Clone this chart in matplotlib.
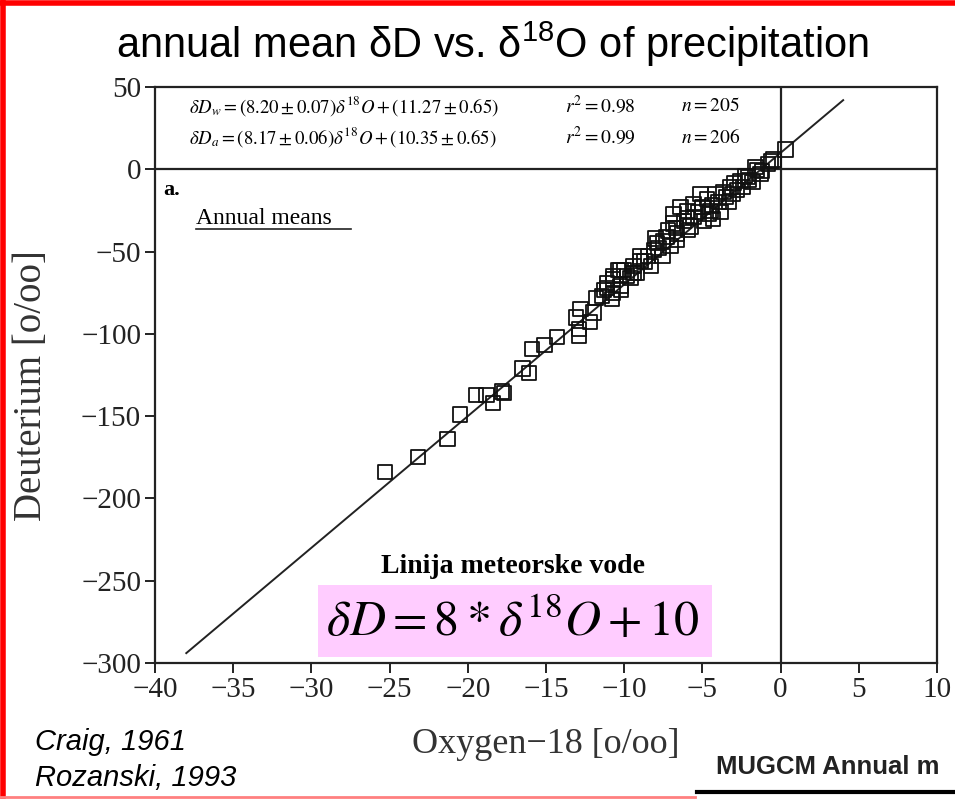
import matplotlib
matplotlib.use("Agg")
import matplotlib.pyplot as plt
from matplotlib.patches import Rectangle
from matplotlib.lines import Line2D

# annual means, d18O vs dD
d18o = [0.32, -0.45, -0.83, -1.6, -1.28, -2.1, -1.8, -2.56, -2.4, -3.2,
        -3.07, -3.65, -4.16, -3.3, -3.97, -4.7, -5.12, -4.48, -5.0, -5.57,
        -5.95, -6.4, -6.85, -6.9, -6.2, -5.57, -4.9, -4.3, -3.84, -5.76,
        -6.6, -7.2, -7.5, -7.9, -7.04, -6.6, -8.1, -7.55, -8.5, -8.96,
        -8.3, -9.4, -10.0, -10.4, -9.2, -9.8, -10.7, -11.1, -10.24, -10.7,
        -11.3, -11.4, -10.24, -9.4, -10.7, -11.1, -10.2, -11.8, -10.8, -12.8,
        -11.97, -13.1, -12.2, -12.9, -12.9, -14.3, -15.1, -15.9, -16.5, -16.1,
        -17.8, -18.8, -17.7, -19.5, -18.4, -20.5, -21.3, -23.2, -25.3,
        -2.8, -1.2, -0.6, -2.0, -3.5, -4.4, -5.3, -6.0, -7.3, -8.7,
        -9.0, -7.8, -5.9, -4.6, -3.0, -2.3, -1.5, -6.7, -8.0, -9.6]
dD = [12.0, 6.0, 3.0, 1.2, -3.0, -4.8, -7.8, -7.2, -10.8, -10.8,
      -15.0, -13.8, -15.0, -19.8, -19.8, -18.0, -15.0, -25.2, -22.8, -21.0,
      -25.2, -22.8, -27.0, -33.0, -31.2, -28.8, -31.2, -30.0, -25.8, -34.8,
      -39.0, -37.2, -43.8, -45.0, -46.8, -43.2, -49.2, -52.8, -52.8, -55.8,
      -58.8, -58.8, -61.2, -61.2, -63.0, -64.8, -64.8, -69.0, -70.8, -75.0,
      -73.2, -76.8, -61.0, -63.0, -67.0, -72.0, -73.0, -78.0, -79.0, -85.0,
      -87.0, -90.0, -93.0, -97.0, -101.0, -102.0, -107.0, -109.0, -121.0, -124.0,
      -135.0, -137.0, -136.0, -137.0, -142.0, -149.0, -164.0, -175.0, -184.0,
      -12.5, -1.0, 5.0, -6.5, -17.0, -22.0, -26.0, -29.5, -41.0, -56.0,
      -53.0, -48.0, -37.0, -27.0, -8.5, -4.0, -0.5, -35.5, -42.0, -66.0]

# meteoric water line end points
line_x = [-38.0, 4.0]
line_y = [-294.0, 42.0]

x_ticks = [-40, -35, -30, -25, -20, -15, -10, -5, 0, 5, 10]
y_ticks = [50, 0, -50, -100, -150, -200, -250, -300]

eq_lines = [r"$\delta D_w = (8.20 \pm 0.07)\delta^{18}O + (11.27 \pm 0.65)$",
            r"$\delta D_a = (8.17 \pm 0.06)\delta^{18}O + (10.35 \pm 0.65)$"]
r2_lines = [r"$r^2 = 0.98$", r"$r^2 = 0.99$"]
n_lines = [r"$n = 205$", r"$n = 206$"]

plt.rcParams["mathtext.fontset"] = "stix"
plt.rcParams["mathtext.rm"] = "Liberation Sans"
plt.rcParams["mathtext.it"] = "Liberation Sans:italic"
plt.rcParams["mathtext.bf"] = "Liberation Sans:bold"

W, H = 955, 799
fig = plt.figure(figsize=(W / 100, H / 100), dpi=100)
ax = fig.add_axes([155 / W, 1 - 663 / H, (937 - 155) / W, (663 - 87) / H])

ax.plot(line_x, line_y, color="#222222", lw=1.4, zorder=2)
ax.scatter(d18o, dD, marker="s", s=105, facecolors="none",
           edgecolors="#111111", linewidths=1.3, zorder=3)
ax.axhline(0, color="#222222", lw=1.6, zorder=1)
ax.axvline(0, color="#222222", lw=1.6, zorder=1)

ax.set_xlim(-40, 10)
ax.set_ylim(-300, 50)
ax.set_xticks(x_ticks)
ax.set_yticks(y_ticks)
for sp in ax.spines.values():
    sp.set_linewidth(1.6)
    sp.set_color("#222222")
ax.tick_params(direction="out", length=7, width=1.4, pad=3,
               labelsize=21, colors="#222222")
for lab in ax.get_xticklabels() + ax.get_yticklabels():
    lab.set_family("Liberation Serif")
    lab.set_color("#222222")

# header box text
for i, yy in enumerate([38.5, 19.6]):
    ax.text(-37.8, yy, eq_lines[i], fontsize=13.5, va="center", math_fontfamily="stix")
    ax.text(-13.8, yy, r2_lines[i], fontsize=14, va="center", math_fontfamily="stix")
    ax.text(-6.4, yy, n_lines[i], fontsize=14, va="center", math_fontfamily="stix")

ax.text(-39.5, -12.6, "a.", fontsize=16, fontweight="bold", family="Liberation Serif",
        va="center")
ax.text(-37.4, -33.0, "Annual means", fontsize=17, family="Liberation Serif",
        va="baseline")
ax.plot([-37.4, -27.5], [-36.3, -36.3], color="#222222", lw=1.2)

fig.text(0.516, 0.944, r"annual mean δD vs. δ$^{18}$O of precipitation",
         fontsize=30, family="Liberation Sans", ha="center", va="center",
         math_fontfamily="custom")
fig.text(0.0335, 0.518, "Deuterium [o/oo]", rotation=90, fontsize=28,
         family="Liberation Serif", ha="center", va="center", color="#333333")
fig.text(0.571, 0.0676, "Oxygen−18 [o/oo]", fontsize=26,
         family="Liberation Serif", ha="center", va="center", color="#333333")

# pink equation box
fig.patches.append(Rectangle((318 / W, 1 - 657 / H), (712 - 318) / W, (657 - 585) / H,
                             transform=fig.transFigure, facecolor="#FFCCFF",
                             edgecolor="none", zorder=5))
fig.text(0.537, 0.2916, "Linija meteorske vode", fontsize=20, fontweight="bold",
         family="Liberation Serif", ha="center", va="center", zorder=6)
fig.text(0.537, 0.2215, r"$\delta D = 8 * \delta^{18} O + 10$", fontsize=36,
         ha="center", va="center", math_fontfamily="stix", zorder=6)

fig.text(35 / W, 1 - 742 / H, "Craig, 1961", fontsize=21, style="italic",
         family="Liberation Sans", va="center")
fig.text(35 / W, 1 - 778 / H, "Rozanski, 1993", fontsize=21, style="italic",
         family="Liberation Sans", va="center")
fig.text(716 / W, 1 - 767 / H, "MUGCM Annual m", fontsize=18.5, fontweight="bold",
         family="Liberation Sans", va="center", color="#222222")
fig.lines.append(Line2D([697 / W, 1.0], [1 - 792 / H, 1 - 792 / H],
                        transform=fig.transFigure, color="black", lw=3))

# red slide border
red = "#FF0000"
fig.lines.append(Line2D([3 / W, 3 / W], [0, 1], transform=fig.transFigure, color=red, lw=4))
fig.lines.append(Line2D([0, 1], [1 - 3 / H, 1 - 3 / H], transform=fig.transFigure, color=red, lw=4))
fig.lines.append(Line2D([0, 695 / W], [1 - 797 / H, 1 - 797 / H], transform=fig.transFigure,
                        color="#FF8080", lw=2))

fig.savefig("out.png", dpi=100)
